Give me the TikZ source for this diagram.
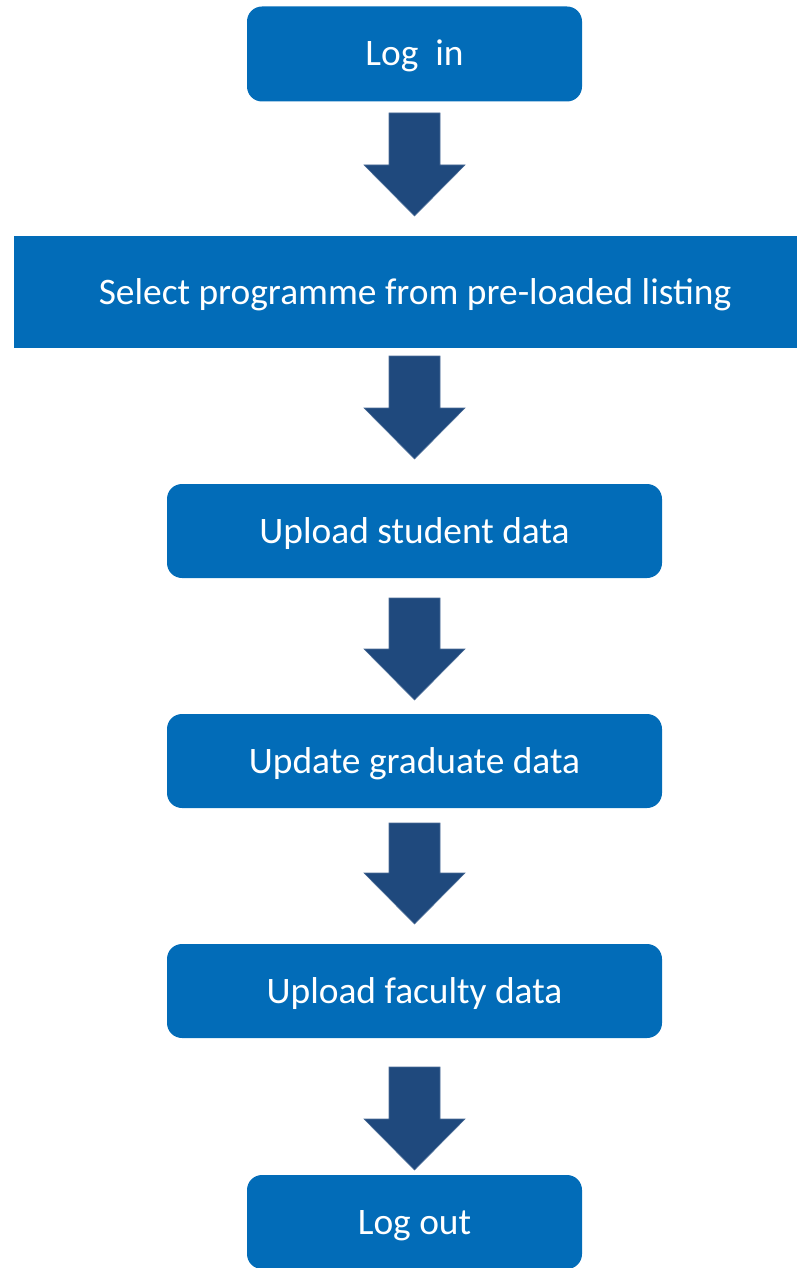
\documentclass[tikz,border=0pt]{standalone}
\usepackage{fontspec}
\setmainfont{Carlito}
\usetikzlibrary{calc}
\definecolor{boxblue}{RGB}{2,108,184}
\definecolor{arrowblue}{RGB}{31,73,125}
\tikzset{
  stepbox/.style={fill=boxblue, draw=none, rounded corners=15pt, text=white,
    font=\fontsize{37.4}{44}\selectfont, text height=24pt, text depth=0pt, inner sep=0pt},
  widebox/.style={stepbox, rounded corners=0pt},
  barrow/.style={fill=arrowblue, draw=arrowblue!80!white, line width=0.6pt}
}
\newcommand{\blkarrow}[2]{%
  \filldraw[barrow] let \p1=(#1), \p2=(#2) in
    (\x1-25.5pt,\y1) -- (\x1+25.5pt,\y1) -- (\x1+25.5pt,\y2+51pt) --
    (\x1+50.5pt,\y2+51pt) -- (\x2,\y2) -- (\x1-50.5pt,\y2+51pt) --
    (\x1-25.5pt,\y2+51pt) -- cycle;}
\begin{document}
\begin{tikzpicture}[x=1pt,y=-1pt]
\useasboundingbox (0,0) rectangle (796,1268);
\node[stepbox, minimum width=335pt, minimum height=95pt] (login) at (414.5,54) {Log\ \ in};
\node[widebox, minimum width=802pt, minimum height=112pt] (select) at (415,292) {Select programme from pre-loaded listing};
\node[stepbox, minimum width=495pt, minimum height=94pt] (student) at (414.5,531) {Upload student data};
\node[stepbox, minimum width=495pt, minimum height=94pt] (graduate) at (414.5,761) {Update graduate data};
\node[stepbox, minimum width=495pt, minimum height=94pt] (faculty) at (414.5,991) {Upload faculty data};
\node[stepbox, minimum width=335pt, minimum height=94pt] (logout) at (414.5,1222) {Log out};
\coordinate (a1t) at (414.5,113); \coordinate (a1b) at (414.5,216);
\coordinate (a2t) at (414.5,356); \coordinate (a2b) at (414.5,459);
\coordinate (a3t) at (414.5,598); \coordinate (a3b) at (414.5,700);
\coordinate (a4t) at (414.5,823); \coordinate (a4b) at (414.5,924);
\coordinate (a5t) at (414.5,1067); \coordinate (a5b) at (414.5,1170);
\blkarrow{a1t}{a1b}
\blkarrow{a2t}{a2b}
\blkarrow{a3t}{a3b}
\blkarrow{a4t}{a4b}
\blkarrow{a5t}{a5b}
\end{tikzpicture}
\end{document}
